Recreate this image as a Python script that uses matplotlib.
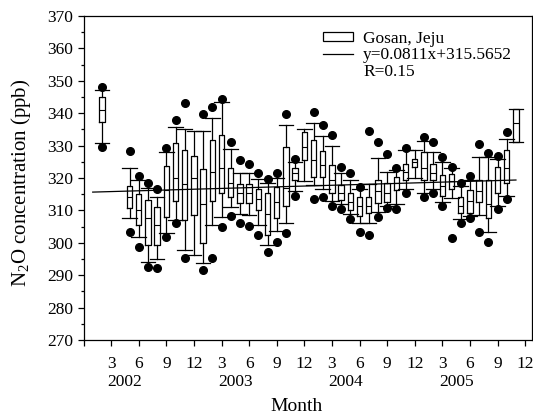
import numpy as np
import matplotlib
matplotlib.use('Agg')
import matplotlib.pyplot as plt
from matplotlib.patches import Patch
from matplotlib.lines import Line2D

plt.rcParams['font.family'] = ['Liberation Serif', 'DejaVu Serif']
plt.rcParams['mathtext.fontset'] = 'custom'
plt.rcParams['mathtext.rm'] = 'Liberation Serif'
plt.rcParams['mathtext.it'] = 'Liberation Serif:italic'

# month index, Jan 2002 = 1
months = [2, 5, 6, 7, 8, 9, 10, 11, 12, 13, 14, 15, 16, 17, 18, 19, 20, 21, 22, 23, 24,
          25, 26, 27, 28, 29, 30, 31, 32, 33, 34, 35, 36, 37, 38, 39, 40, 41, 42, 43,
          44, 45, 46, 47]
q1 = [337.4, 310.6, 305.5, 299.3, 299.3, 308.0, 312.9, 307.0, 308.6, 300.0, 313.0, 315.4,
      314.2, 312.2, 312.2, 310.1, 302.4, 307.6, 311.4, 319.4, 325.6, 320.4, 320.4, 315.3,
      313.2, 310.1, 308.3, 309.3, 312.2, 312.7, 316.3, 319.4, 323.5, 319.4, 319.4, 314.4,
      316.5, 309.1, 309.3, 312.7, 307.6, 315.3, 318.4, 331.2]
med = [341.0, 314.2, 310.1, 307.7, 305.5, 316.3, 320.0, 318.0, 320.0, 312.0, 322.0, 323.0,
       318.5, 315.5, 315.5, 313.5, 309.0, 312.5, 317.0, 321.5, 329.5, 325.5, 324.0, 319.5,
       315.5, 312.5, 311.5, 311.5, 316.0, 315.5, 318.5, 322.0, 324.8, 323.0, 321.5, 317.5,
       319.0, 311.5, 313.0, 316.0, 312.0, 319.5, 323.0, 337.0]
q3 = [344.9, 317.5, 315.1, 313.2, 311.1, 323.7, 330.8, 328.6, 326.8, 322.8, 331.7, 333.3,
      323.2, 318.1, 318.1, 316.5, 315.3, 317.3, 329.7, 323.2, 334.3, 331.7, 328.3, 324.0,
      317.8, 315.3, 314.2, 314.2, 319.4, 318.4, 320.2, 324.2, 325.8, 328.1, 324.2, 320.9,
      321.2, 314.2, 316.3, 319.4, 319.4, 323.5, 328.6, 341.2]
whis_lo = [330.9, 307.6, 301.9, 294.2, 295.0, 303.0, 307.0, 297.8, 296.2, 293.8, 305.5, 308.0,
           311.1, 309.0, 308.5, 305.5, 299.3, 303.5, 306.2, 316.0, 319.0, 317.8, 316.5, 313.0,
           312.0, 309.0, 306.0, 306.0, 309.5, 311.5, 312.0, 316.5, 320.0, 315.5, 316.5, 312.5,
           313.7, 307.2, 308.3, 308.5, 303.4, 311.5, 314.5, 331.2]
whis_hi = [347.2, 323.0, 319.5, 317.0, 314.0, 328.0, 335.6, 335.0, 334.5, 334.5, 338.5, 343.5,
           329.0, 321.6, 321.5, 319.8, 318.5, 320.0, 336.4, 325.0, 335.0, 337.0, 333.0, 330.0,
           321.5, 319.5, 316.5, 318.0, 326.1, 322.0, 322.5, 328.5, 328.6, 331.5, 328.0, 325.0,
           323.0, 317.5, 319.5, 326.6, 326.5, 326.0, 332.0, 341.2]
dot_lo = [329.7, 303.4, 298.8, 292.6, 292.2, 301.7, 306.0, 295.3, np.nan, 291.7, 295.3, 305.0,
          308.4, 306.2, 305.3, 302.4, 297.3, 300.3, 303.1, 314.4, np.nan, 313.5, 314.2, 311.4,
          310.3, 307.2, 303.4, 302.4, 308.1, 310.6, 310.3, 315.5, np.nan, 314.2, 315.3, 311.4,
          301.4, 306.2, 307.7, 303.4, 300.1, 310.3, 313.4, np.nan]
dot_hi = [348.2, 328.3, 320.6, 318.4, 316.6, 329.2, 337.9, 343.0, np.nan, 339.8, 342.0, 344.3,
          331.2, 325.6, 324.2, 321.6, 319.6, 321.6, 339.8, 325.8, np.nan, 340.5, 336.4, 333.3,
          323.3, 321.4, 317.3, 334.5, 331.2, 327.3, 323.2, 329.4, np.nan, 332.5, 331.2, 326.4,
          323.5, 318.4, 320.6, 330.4, 327.8, 326.9, 334.3, np.nan]

slope, intercept = 0.0811, 315.5652
fit_x = [1, 47]
years = ['2002', '2003', '2004', '2005']

fig = plt.figure(figsize=(5.33, 4.2), dpi=100)
ax = fig.add_axes([0.1567, 0.1905, 0.8415, 0.7714])

stats = []
for i in range(len(months)):
    stats.append({'q1': q1[i], 'med': med[i], 'q3': q3[i],
                  'whislo': whis_lo[i], 'whishi': whis_hi[i], 'fliers': []})

ax.bxp(stats, positions=months, widths=0.6, capwidths=1.6, showfliers=False,
       boxprops=dict(color='k', linewidth=0.9),
       whiskerprops=dict(color='k', linewidth=0.9),
       capprops=dict(color='k', linewidth=0.9),
       medianprops=dict(color='k', linewidth=0.8),
       manage_ticks=False)

ax.plot(months, dot_lo, 'o', color='k', markersize=5.5, linestyle='none')
ax.plot(months, dot_hi, 'o', color='k', markersize=5.5, linestyle='none')

fx = np.array(fit_x)
ax.plot(fx, slope * fx + intercept, color='k', linewidth=0.9)

ax.set_xlim(0, 48.75)
ax.set_ylim(270, 370)
ax.set_yticks(np.arange(270, 371, 10))
ax.set_yticks(np.arange(275, 370, 10), minor=True)
xt = np.arange(0, 49, 3)
ax.set_xticks(xt)
ax.set_xticklabels(['' if t == 0 else str((t - 1) % 12 + 1) for t in xt])
ax.tick_params(axis='both', which='major', length=4.5, width=0.9, labelsize=12.5)
ax.tick_params(axis='y', which='minor', length=2.5, width=0.9)
ax.tick_params(axis='x', pad=7)
ax.tick_params(axis='y', pad=3)
for s in ax.spines.values():
    s.set_linewidth(0.9)

for i, yr in enumerate(years):
    ax.text(4.5 + 12 * i, -0.13, yr, transform=ax.get_xaxis_transform(),
            ha='center', va='center', fontsize=12.5)
ax.text(0.475, -0.205, 'Month', transform=ax.transAxes, ha='center', va='center', fontsize=14)
ax.set_ylabel(r'N$_{2}$O concentration (ppb)', fontsize=15)
ax.yaxis.set_label_coords(-0.113, 0.485)

handles = [Patch(facecolor='white', edgecolor='k', linewidth=0.9),
           Line2D([], [], color='k', linewidth=0.9),
           Line2D([], [], color='none')]
labels = ['Gosan, Jeju', 'y=0.0811x+315.5652', 'R=0.15']
ax.legend(handles, labels, loc='upper left', bbox_to_anchor=(0.534, 0.955),
          frameon=False, fontsize=12.5, handlelength=1.7, handleheight=0.42,
          handletextpad=0.6, labelspacing=0.04, borderpad=0, borderaxespad=0)

fig.savefig('out.png', dpi=100)
